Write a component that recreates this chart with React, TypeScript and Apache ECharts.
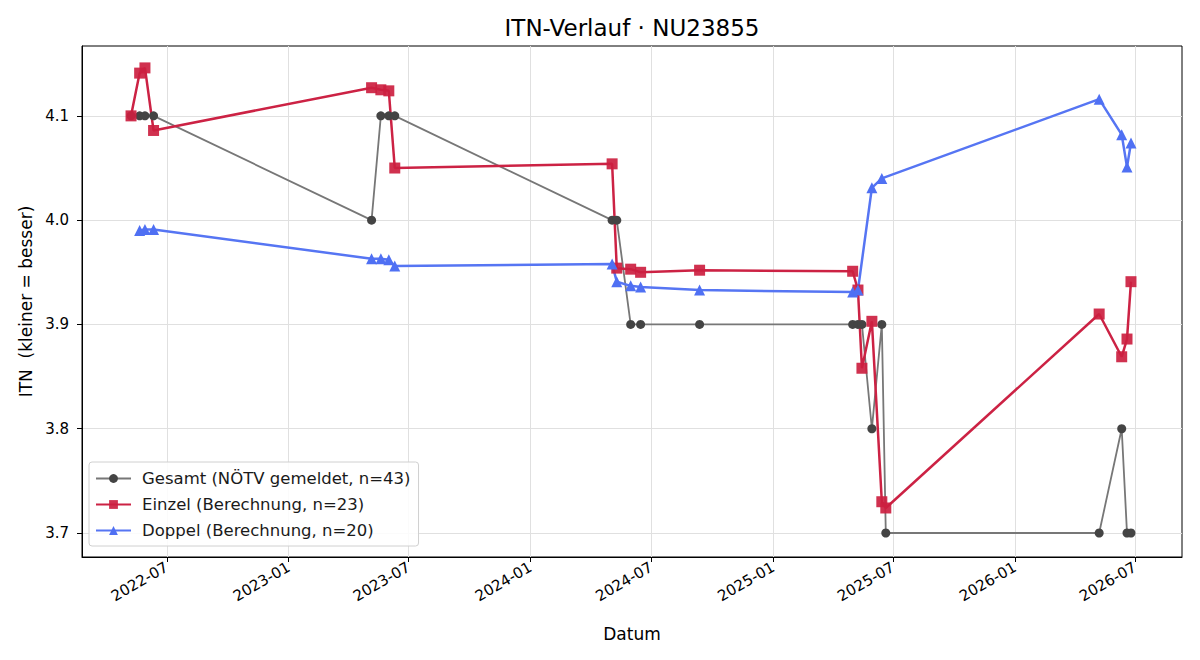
import React, { useEffect, useRef } from "react";
import * as echarts from "echarts";

const titleText = "ITN-Verlauf · NU23855";
const xAxisName = "Datum";
const yAxisName = "ITN  (kleiner = besser)";

const xTickDates = ["2022-07-01", "2023-01-01", "2023-07-01", "2024-01-01", "2024-07-01", "2025-01-01", "2025-07-01", "2026-01-01", "2026-07-01"];
const yTickValues = [3.7, 3.8, 3.9, 4.0, 4.1];

const gesamtDates = ["2022-05-08", "2022-05-21", "2022-05-29", "2022-06-11", "2023-05-06", "2023-05-20", "2023-06-01", "2023-06-10", "2024-05-03", "2024-05-10", "2024-05-31", "2024-06-15", "2024-09-12", "2025-05-01", "2025-05-09", "2025-05-15", "2025-05-30", "2025-06-14", "2025-06-20", "2026-05-08", "2026-06-11", "2026-06-19", "2026-06-25"];
const gesamtValues = [4.1, 4.1, 4.1, 4.1, 4.0, 4.1, 4.1, 4.1, 4.0, 4.0, 3.9, 3.9, 3.9, 3.9, 3.9, 3.9, 3.8, 3.9, 3.7, 3.7, 3.8, 3.7, 3.7];

const einzelDates = ["2022-05-08", "2022-05-21", "2022-05-29", "2022-06-11", "2023-05-06", "2023-05-20", "2023-06-01", "2023-06-10", "2024-05-03", "2024-05-10", "2024-05-31", "2024-06-15", "2024-09-12", "2025-05-01", "2025-05-09", "2025-05-15", "2025-05-30", "2025-06-14", "2025-06-20", "2026-05-08", "2026-06-11", "2026-06-19", "2026-06-25"];
const einzelValues = [4.100, 4.141, 4.146, 4.086, 4.127, 4.125, 4.124, 4.050, 4.054, 3.954, 3.953, 3.950, 3.952, 3.951, 3.933, 3.858, 3.903, 3.730, 3.724, 3.910, 3.869, 3.886, 3.941];

const doppelDates = ["2022-05-21", "2022-05-29", "2022-06-11", "2023-05-06", "2023-05-20", "2023-06-01", "2023-06-10", "2024-05-03", "2024-05-10", "2024-05-31", "2024-06-15", "2024-09-12", "2025-05-01", "2025-05-09", "2025-05-30", "2025-06-14", "2026-05-08", "2026-06-11", "2026-06-19", "2026-06-25"];
const doppelValues = [3.990, 3.991, 3.991, 3.963, 3.963, 3.962, 3.956, 3.958, 3.941, 3.937, 3.936, 3.933, 3.931, 3.933, 4.031, 4.040, 4.116, 4.082, 4.051, 4.074];

const seriesNames = ["Gesamt (NÖTV gemeldet, n=43)", "Einzel (Berechnung, n=23)", "Doppel (Berechnung, n=20)"];

const FONT = "DejaVu Sans";

const ts = (d: string) => new Date(d + "T00:00:00Z").getTime();

function toPairs(dates: string[], values: number[]) {
  return dates.map((d, i) => [ts(d), values[i]]);
}

export default function App() {
  const ref = useRef<HTMLDivElement>(null);
  useEffect(() => {
    document.body.style.margin = "0";
    if (!ref.current) return;
    const chart = echarts.init(ref.current, undefined, { renderer: "svg" });
    const xTicks = xTickDates.map(ts);
    const pad = (n: number) => (n < 10 ? "0" + n : "" + n);
    chart.setOption({
      animation: false,
      backgroundColor: "#ffffff",
      textStyle: { fontFamily: FONT },
      graphic: [
        {
          type: "text",
          x: 632,
          y: 28,
          style: { text: titleText, font: `23px '${FONT}'`, fill: "#000", align: "center", verticalAlign: "middle" },
        },
      ],
      grid: { left: 82, right: 18, top: 46, bottom: 103, show: true, borderColor: "#000", borderWidth: 1, backgroundColor: "transparent" },
      legend: {
        orient: "vertical",
        left: 89,
        top: 462,
        itemWidth: 35,
        itemHeight: 11,
        itemGap: 9,
        padding: [8, 8, 7, 6],
        backgroundColor: "rgba(255,255,255,0.85)",
        borderColor: "#d0d0d0",
        borderWidth: 1,
        borderRadius: 3,
        textStyle: { fontFamily: FONT, fontSize: 16.5, color: "#1a1a1a", padding: [0, 0, 0, 6] },
        data: seriesNames,
      },
      xAxis: {
        type: "value",
        min: ts("2022-02-23"),
        max: ts("2026-09-10"),
        name: xAxisName,
        nameLocation: "middle",
        nameGap: 68,
        nameTextStyle: { fontFamily: FONT, fontSize: 17, color: "#000" },
        axisLine: { show: true, onZero: false, lineStyle: { color: "#000", width: 1 } },
        axisTick: { show: true, customValues: xTicks, length: 5, lineStyle: { color: "#000" } },
        axisLabel: {
          customValues: xTicks,
          rotate: 30,
          margin: 9,
          fontFamily: FONT,
          fontSize: 15,
          color: "#000",
          formatter: (v: number) => {
            const d = new Date(v);
            return d.getUTCFullYear() + "-" + pad(d.getUTCMonth() + 1);
          },
        },
        splitLine: { show: true, lineStyle: { color: "#e0e0e0", width: 1 } },
      },
      yAxis: {
        type: "value",
        min: 3.677,
        max: 4.167,
        name: yAxisName,
        nameLocation: "middle",
        nameGap: 48,
        nameTextStyle: { fontFamily: FONT, fontSize: 17, color: "#000" },
        axisLine: { show: true, onZero: false, lineStyle: { color: "#000", width: 1 } },
        axisTick: { show: true, customValues: yTickValues, length: 5, lineStyle: { color: "#000" } },
        axisLabel: {
          customValues: yTickValues,
          margin: 13,
          fontFamily: FONT,
          fontSize: 15,
          color: "#000",
          formatter: (v: number) => v.toFixed(1),
        },
        splitLine: { show: true, lineStyle: { color: "#e0e0e0", width: 1 } },
      },
      series: [
        {
          name: seriesNames[0],
          type: "line",
          data: toPairs(gesamtDates, gesamtValues),
          symbol: "circle",
          symbolSize: 9,
          showAllSymbol: true,
          lineStyle: { color: "#777777", width: 1.8 },
          itemStyle: { color: "#444444", borderWidth: 0 },
        },
        {
          name: seriesNames[1],
          type: "line",
          data: toPairs(einzelDates, einzelValues),
          symbol: "rect",
          symbolSize: 11,
          showAllSymbol: true,
          lineStyle: { color: "#cc2244", width: 2.5 },
          itemStyle: { color: "#cc1f40", opacity: 0.92, borderWidth: 0 },
        },
        {
          name: seriesNames[2],
          type: "line",
          data: toPairs(doppelDates, doppelValues),
          symbol: "triangle",
          symbolSize: 11,
          showAllSymbol: true,
          lineStyle: { color: "#5675f3", width: 2.5 },
          itemStyle: { color: "#4f70f3", borderWidth: 0 },
        },
      ],
    });
    return () => chart.dispose();
  }, []);
  return <div ref={ref} style={{ width: 1200, height: 660 }} />;
}
